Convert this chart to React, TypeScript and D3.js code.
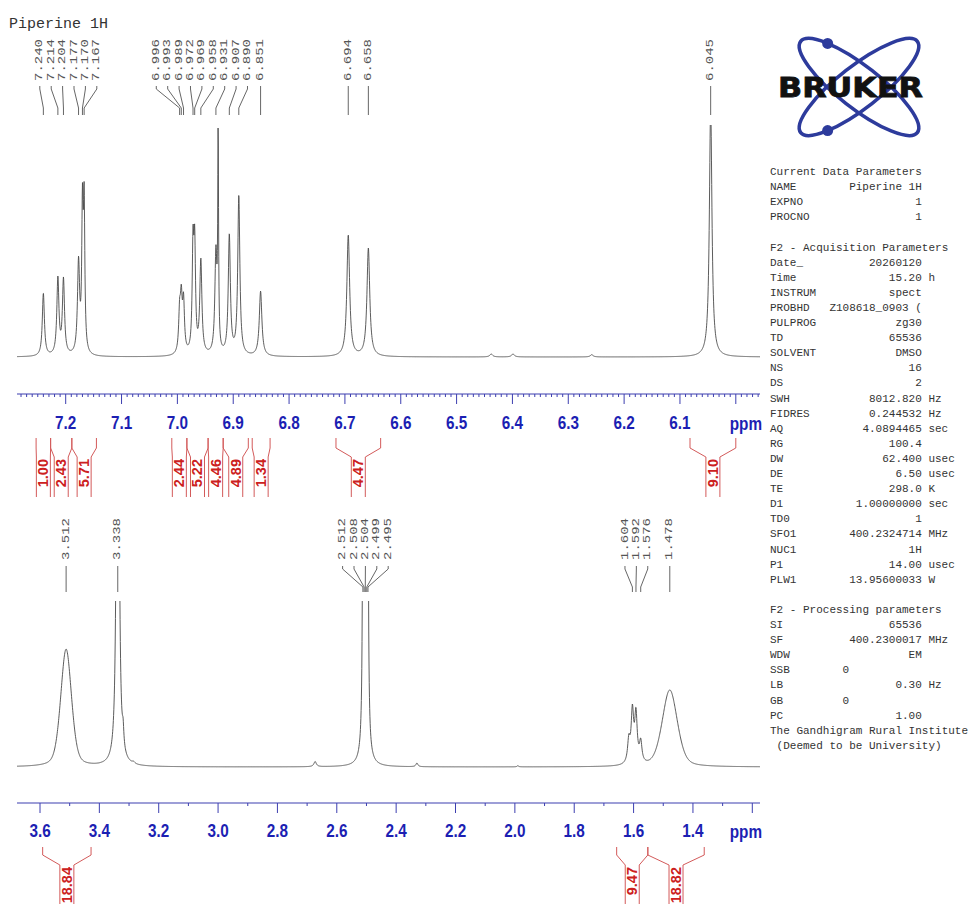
import React, { useEffect, useRef } from "react";
import * as d3 from "d3";

const MONO = "'Liberation Mono', 'DejaVu Sans Mono', monospace";
const SANS = "'Liberation Sans', Arial, sans-serif";

// ---- aromatic region (top panel) ----
const topPeakPpm = [7.24, 7.214, 7.204, 7.177, 7.17, 7.167, 6.996, 6.993, 6.989, 6.972, 6.969, 6.958, 6.931, 6.927, 6.907, 6.89, 6.851, 6.694, 6.658, 6.438, 6.399, 6.258, 6.045];
const topPeakHeight = [27.6, 34.9, 34.5, 43.5, 75, 75.4, 25.4, 31.5, 28, 56.9, 56.9, 42.7, 48.3, 100, 53.4, 69.8, 28.4, 52.6, 47, 1.3, 1.3, 1, 108];
const topPeakWidth = [0.0045, 0.0045, 0.0045, 0.0045, 0.003, 0.003, 0.004, 0.004, 0.004, 0.0035, 0.0035, 0.0045, 0.0045, 0.0018, 0.0045, 0.0045, 0.0055, 0.006, 0.006, 0.006, 0.006, 0.006, 0.0055];
const topPeakShape = [1, 1, 1, 1, 1, 1, 1, 1, 1, 1, 1, 1, 1, 1, 1, 1, 1, 1, 1, 1, 1, 1, 1];
const topLabels = ["7.240", "7.214", "7.204", "7.177", "7.170", "7.167", "6.996", "6.993", "6.989", "6.972", "6.969", "6.958", "6.931", "6.907", "6.890", "6.851", "6.694", "6.658", "6.045"];
const topTickValues = [7.2, 7.1, 7.0, 6.9, 6.8, 6.7, 6.6, 6.5, 6.4, 6.3, 6.2, 6.1];
const topIntegralStart = [7.253, 7.227, 7.189, 7.01, 6.983, 6.945, 6.918, 6.866, 6.716, 6.082];
const topIntegralEnd = [7.227, 7.189, 7.145, 6.983, 6.945, 6.918, 6.873, 6.834, 6.636, 6.0];
const topIntegralValue = ["1.00", "2.43", "5.71", "2.44", "5.22", "4.46", "4.89", "1.34", "4.47", "9.10"];

// ---- aliphatic region (bottom panel) ----
const botPeakPpm = [3.512, 3.392, 3.338, 3.32, 3.285, 2.673, 2.512, 2.508, 2.504, 2.499, 2.495, 2.33, 1.99, 1.616, 1.604, 1.592, 1.576, 1.478];
const botPeakHeight = [71, 3, 600, 29.5, 3.6, 3.3, 200, 400, 550, 400, 200, 2.4, 0.8, 20, 38, 36, 17.5, 46.4];
const botPeakWidth = [0.043, 0.012, 0.0065, 0.006, 0.01, 0.01, 0.004, 0.004, 0.004, 0.004, 0.004, 0.008, 0.006, 0.01, 0.01, 0.01, 0.01, 0.06];
const botPeakShape = [0.35, 1, 1, 1, 1, 1, 1, 1, 1, 1, 1, 1, 1, 1, 1, 1, 1, 0.35];
const botLabels = ["3.512", "3.338", "2.512", "2.508", "2.504", "2.499", "2.495", "1.604", "1.592", "1.576", "1.478"];
const botTickValues = [3.6, 3.4, 3.2, 3.0, 2.8, 2.6, 2.4, 2.2, 2.0, 1.8, 1.6, 1.4];
const botIntegralStart = [3.591, 1.657, 1.552];
const botIntegralEnd = [3.428, 1.552, 1.362];
const botIntegralValue = ["18.84", "9.47", "18.82"];

// ---- parameter block ----
const paramRows: [string, string, string, number?][] = [
  ["Current Data Parameters", "", ""],
  ["NAME", "Piperine 1H", ""],
  ["EXPNO", "1", ""],
  ["PROCNO", "1", ""],
  ["", "", ""],
  ["F2 - Acquisition Parameters", "", ""],
  ["Date_", "20260120", ""],
  ["Time", "15.20", "h"],
  ["INSTRUM", "spect", ""],
  ["PROBHD", "Z108618_0903 (", ""],
  ["PULPROG", "zg30", ""],
  ["TD", "65536", ""],
  ["SOLVENT", "DMSO", ""],
  ["NS", "16", ""],
  ["DS", "2", ""],
  ["SWH", "8012.820", "Hz"],
  ["FIDRES", "0.244532", "Hz"],
  ["AQ", "4.0894465", "sec"],
  ["RG", "100.4", ""],
  ["DW", "62.400", "usec"],
  ["DE", "6.50", "usec"],
  ["TE", "298.0", "K"],
  ["D1", "1.00000000", "sec"],
  ["TD0", "1", ""],
  ["SFO1", "400.2324714", "MHz"],
  ["NUC1", "1H", ""],
  ["P1", "14.00", "usec"],
  ["PLW1", "13.95600033", "W"],
  ["", "", ""],
  ["F2 - Processing parameters", "", ""],
  ["SI", "65536", ""],
  ["SF", "400.2300017", "MHz"],
  ["WDW", "EM", ""],
  ["SSB", "0", "", 12],
  ["LB", "0.30", "Hz"],
  ["GB", "0", "", 12],
  ["PC", "1.00", ""],
  ["The Gandhigram Rural Institute", "", ""],
  [" (Deemed to be University)", "", ""],
];

function shape(dx: number, fwhm: number, eta: number) {
  const u = (2 * dx) / fwhm;
  return eta / (1 + u * u) + (1 - eta) * Math.exp(-Math.LN2 * u * u);
}

// amplitudes so that the summed curve hits the read heights at each peak
function solveAmps(ppm: number[], h: number[], w: number[], eta: number[]) {
  const amp = h.slice();
  for (let it = 0; it < 300; it++) {
    for (let i = 0; i < ppm.length; i++) {
      let s = 0;
      for (let j = 0; j < ppm.length; j++) if (j !== i) s += amp[j] * shape(ppm[i] - ppm[j], w[j], eta[j]);
      amp[i] = Math.max(0, h[i] - s);
    }
  }
  return amp;
}

function trace(ppm: number[], h: number[], w: number[], eta: number[], from: number, to: number, n: number) {
  const amp = solveAmps(ppm, h, w, eta);
  const pts: [number, number][] = [];
  for (let k = 0; k <= n; k++) {
    const p = from + ((to - from) * k) / n;
    let v = 0;
    for (let j = 0; j < ppm.length; j++) v += amp[j] * shape(p - ppm[j], w[j], eta[j]);
    pts.push([p, v]);
  }
  return pts;
}

function spread(xs: number[], gap: number) {
  let cs = xs.map((x, i) => ({ idx: [i], c: x }));
  let merged = true;
  while (merged) {
    merged = false;
    for (let k = 0; k < cs.length - 1; k++) {
      const a = cs[k], b = cs[k + 1];
      const aR = a.c + ((a.idx.length - 1) * gap) / 2;
      const bL = b.c - ((b.idx.length - 1) * gap) / 2;
      if (bL - aR < gap) {
        const idx = a.idx.concat(b.idx);
        const c = d3.mean(idx, (i, m) => xs[i] - (m - (idx.length - 1) / 2) * gap) as number;
        cs.splice(k, 2, { idx, c });
        merged = true;
        break;
      }
    }
  }
  const out: number[] = new Array(xs.length);
  cs.forEach((cl) => cl.idx.forEach((i, m) => (out[i] = cl.c + (m - (cl.idx.length - 1) / 2) * gap)));
  return out;
}

export default function App() {
  const ref = useRef<SVGSVGElement>(null);

  useEffect(() => {
    const svg = d3.select(ref.current);
    svg.selectAll("*").remove();
    const defs = svg.append("defs");

    svg.append("text").attr("x", 9).attr("y", 28).attr("font-family", MONO).attr("font-size", 15)
      .attr("fill", "#333").text("Piperine 1H");

    const axisBlue = "#3d3fb0";
    const labelBlue = "#1c1fb3";
    const red = "#cc2020";
    const redLine = "#d35a5a";

    function panel(opt: any) {
      const { x, y, id, ppm, h, w, eta, labels, clipTop, axisY, ticks, minorStep, majorStep,
        minorLen, majorLen, labelY, intStart, intEnd, intVal, intG, peakLab } = opt;
      const [xL, xR] = [17, 760];
      const pFrom = x.invert(xL), pTo = x.invert(xR);

      // spectrum
      defs.append("clipPath").attr("id", id).append("rect")
        .attr("x", 0).attr("y", clipTop).attr("width", 968).attr("height", axisY - clipTop);
      const pts = trace(ppm, h, w, eta, pFrom, pTo, 3200);
      const line = d3.line<[number, number]>().x((d) => x(d[0])).y((d) => y(d[1]));
      svg.append("path").datum(pts).attr("d", line).attr("fill", "none").attr("stroke", "#4a4a4a")
        .attr("stroke-width", 0.9).attr("clip-path", `url(#${id})`);

      // axis
      const ax = svg.append("g");
      ax.append("line").attr("x1", xL).attr("x2", xR).attr("y1", axisY).attr("y2", axisY)
        .attr("stroke", axisBlue).attr("stroke-width", 1.2);
      const kMin = Math.ceil(Math.min(pFrom, pTo) / minorStep - 1e-6);
      const kMax = Math.floor(Math.max(pFrom, pTo) / minorStep + 1e-6);
      const ratio = Math.round(majorStep / minorStep);
      for (let k = kMin; k <= kMax; k++) {
        const major = k % ratio === 0;
        const xx = x(k * minorStep);
        ax.append("line").attr("x1", xx).attr("x2", xx).attr("y1", axisY).attr("y2", axisY + (major ? majorLen : minorLen))
          .attr("stroke", axisBlue).attr("stroke-width", 1);
      }
      const fmt = d3.format(".1f");
      ticks.forEach((t: number) => {
        ax.append("text").attr("transform", `translate(${x(t)},${labelY}) scale(0.85,1)`)
          .attr("text-anchor", "middle").attr("font-family", SANS).attr("font-weight", "bold")
          .attr("font-size", 18).attr("fill", labelBlue).text(fmt(t));
      });
      ax.append("text").attr("transform", `translate(762,${labelY + 1}) scale(0.85,1)`)
        .attr("text-anchor", "end").attr("font-family", SANS).attr("font-weight", "bold")
        .attr("font-size", 18).attr("fill", labelBlue).text("ppm");

      // peak labels
      const px = labels.map((s: string) => x(+s));
      const lx = spread(px, 11.4);
      const pl = svg.append("g");
      labels.forEach((s: string, i: number) => {
        pl.append("path")
          .attr("d", `M${lx[i]},${peakLab.l0} V${peakLab.l1} L${px[i]},${peakLab.l2} V${peakLab.l3}`)
          .attr("fill", "none").attr("stroke", "#555").attr("stroke-width", 0.9);
        pl.append("text").attr("transform", `translate(${lx[i]},${peakLab.text}) rotate(-90) scale(1,0.76)`)
          .attr("text-anchor", "start").attr("dominant-baseline", "central")
          .attr("font-family", MONO).attr("font-size", 14).attr("fill", "#555").text(s);
      });

      // integrals
      const ig = svg.append("g");
      intVal.forEach((v: string, i: number) => {
        const x1 = x(intStart[i]), x2 = x(intEnd[i]);
        const cx = (x1 + x2) / 2;
        const bw = intG.box;
        let d;
        if (x2 - x1 <= bw) {
          d = `M${x1},${intG.top} V${intG.bottom} M${x2},${intG.top} V${intG.bottom}`;
        } else {
          const bl = cx - bw / 2, br = cx + bw / 2;
          d = `M${x1},${intG.top} V${intG.sh} L${bl},${intG.box0} V${intG.bottom} M${x2},${intG.top} V${intG.sh} L${br},${intG.box0} V${intG.bottom}`;
        }
        ig.append("path").attr("d", d).attr("fill", "none").attr("stroke", redLine).attr("stroke-width", 1);
        ig.append("text").attr("transform", `translate(${cx},${intG.box0 + 2}) rotate(-90)`)
          .attr("text-anchor", "end").attr("dominant-baseline", "central")
          .attr("font-family", SANS).attr("font-weight", "bold").attr("font-size", 14.5)
          .attr("fill", red).text(v);
      });
    }

    const xTop = d3.scaleLinear().domain([7.2, 6.0]).range([65.7, 735.8]);
    const yTop = d3.scaleLinear().domain([0, 100]).range([357, 125]);
    panel({
      x: xTop, y: yTop, id: "clipTop", ppm: topPeakPpm, h: topPeakHeight, w: topPeakWidth, eta: topPeakShape,
      labels: topLabels, clipTop: 125, axisY: 394, ticks: topTickValues, minorStep: 0.01, majorStep: 0.1,
      minorLen: 3, majorLen: 10, labelY: 428.5,
      intStart: topIntegralStart, intEnd: topIntegralEnd, intVal: topIntegralValue,
      intG: { top: 438, sh: 448, box0: 457, bottom: 497, box: 14 },
      peakLab: { text: 81, l0: 86, l1: 89, l2: 108, l3: 115 },
    });

    const xBot = d3.scaleLinear().domain([3.6, 1.2]).range([40, 752.3]);
    const yBot = d3.scaleLinear().domain([0, 100]).range([767, 601]);
    panel({
      x: xBot, y: yBot, id: "clipBot", ppm: botPeakPpm, h: botPeakHeight, w: botPeakWidth, eta: botPeakShape,
      labels: botLabels, clipTop: 601, axisY: 803, ticks: botTickValues, minorStep: 0.1, majorStep: 0.2,
      minorLen: 3, majorLen: 10, labelY: 837,
      intStart: botIntegralStart, intEnd: botIntegralEnd, intVal: botIntegralValue,
      intG: { top: 847, sh: 855, box0: 865, bottom: 910, box: 14 },
      peakLab: { text: 560, l0: 566, l1: 569, l2: 587, l3: 592 },
    });

    // Bruker logo
    const logo = svg.append("g");
    const cx = 859, cy = 87, rx = 74, ry = 21, blue = "#2d3b9c";
    [38, -38].forEach((a) => {
      logo.append("ellipse").attr("cx", cx).attr("cy", cy).attr("rx", rx).attr("ry", ry)
        .attr("transform", `rotate(${a},${cx},${cy})`).attr("fill", "none")
        .attr("stroke", blue).attr("stroke-width", 3.6);
    });
    [[1, 38], [-1, -38]].forEach(([sgn, a]) => {
      const t = Math.PI + 0.8 * sgn;
      const th = (a * Math.PI) / 180;
      const ex = rx * Math.cos(t), ey = ry * Math.sin(t);
      logo.append("circle")
        .attr("cx", cx + ex * Math.cos(th) - ey * Math.sin(th))
        .attr("cy", cy + ex * Math.sin(th) + ey * Math.cos(th))
        .attr("r", 5.5).attr("fill", blue);
    });
    logo.append("text").attr("x", 778).attr("y", 97).attr("font-family", "'DejaVu Sans', Arial, sans-serif")
      .attr("font-weight", "bold").attr("font-size", 26).attr("textLength", 145)
      .attr("lengthAdjust", "spacingAndGlyphs").attr("fill", "#111")
      .attr("stroke", "#111").attr("stroke-width", 0.8).text("BRUKER");

    // parameters
    const pg = svg.append("g").attr("font-family", MONO).attr("font-size", 11).attr("fill", "#333");
    const x0 = 770, cw = 6.6;
    paramRows.forEach(([name, val, unit, col], i) => {
      const yy = 175 + i * 15.1;
      if (name) {
        const lead = name.length - name.trimStart().length;
        pg.append("text").attr("x", x0 + lead * cw).attr("y", yy).text(name.trimStart());
      }
      if (val) {
        const xe = x0 + (col ?? 23) * cw;
        pg.append("text").attr("x", xe).attr("y", yy).attr("text-anchor", "end").text(val);
        if (unit) pg.append("text").attr("x", xe + cw).attr("y", yy).text(unit);
      }
    });
  }, []);

  return (
    <svg ref={ref} width={968} height={904}
      style={{ position: "absolute", left: 0, top: 0, background: "#fff" }} />
  );
}
